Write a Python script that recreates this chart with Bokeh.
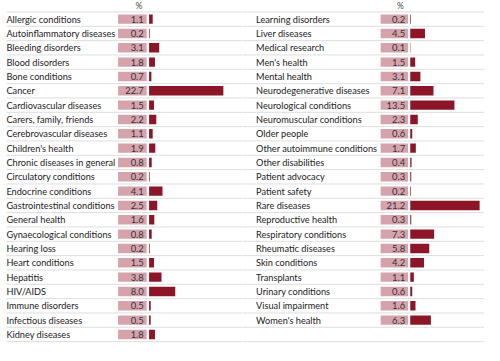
from bokeh.plotting import figure
from bokeh.layouts import row
from bokeh.models import Range1d, ColumnDataSource
from bokeh.core.properties import value
from bokeh.embed import file_html
from bokeh.resources import INLINE

left_labels = ["Allergic conditions", "Autoinflammatory diseases", "Bleeding disorders",
               "Blood disorders", "Bone conditions", "Cancer", "Cardiovascular diseases",
               "Carers, family, friends", "Cerebrovascular diseases", "Children's health",
               "Chronic diseases in general", "Circulatory conditions", "Endocrine conditions",
               "Gastrointestinal conditions", "General health", "Gynaecological conditions",
               "Hearing loss", "Heart conditions", "Hepatitis", "HIV/AIDS", "Immune disorders",
               "Infectious diseases", "Kidney diseases"]
left_values = [1.1, 0.2, 3.1, 1.8, 0.7, 22.7, 1.5, 2.2, 1.1, 1.9, 0.8, 0.2, 4.1, 2.5, 1.6,
               0.8, 0.2, 1.5, 3.8, 8.0, 0.5, 0.5, 1.8]

right_labels = ["Learning disorders", "Liver diseases", "Medical research", "Men's health",
                "Mental health", "Neurodegenerative diseases", "Neurological conditions",
                "Neuromuscular conditions", "Older people", "Other autoimmune conditions",
                "Other disabilities", "Patient advocacy", "Patient safety", "Rare diseases",
                "Reproductive health", "Respiratory conditions", "Rheumatic diseases",
                "Skin conditions", "Transplants", "Urinary conditions", "Visual impairment",
                "Women's health"]
right_values = [0.2, 4.5, 0.1, 1.5, 3.1, 7.1, 13.5, 2.3, 0.6, 1.7, 0.4, 0.3, 0.2, 21.2,
                0.3, 7.3, 5.8, 4.2, 1.1, 0.6, 1.6, 6.3]

unit_header = "%"
n_rows = 23

FONT = "Lato"
BAR = "#8c1628"
BOX = "#d6a3ad"
LINE = "#dedede"
TXT = "#222222"


def panel(labels, values, x_start, x_end, label_x, box_left, box_right, line_x0):
    p = figure(width=242, height=345, output_backend="svg", toolbar_location=None,
               x_range=Range1d(x_start, x_end), y_range=Range1d(22.77, -1.3),
               min_border=0, min_border_left=0, min_border_right=0,
               min_border_top=0, min_border_bottom=0)
    p.axis.visible = False
    p.grid.visible = False
    p.outline_line_color = None
    p.background_fill_color = "white"
    p.border_fill_color = "white"

    rows = list(range(len(labels)))
    src = ColumnDataSource(dict(
        y=rows, label=labels, val=values,
        txt=[f"{v:.1f}" for v in values],
    ))

    # separator lines
    ys = [i - 0.5 for i in range(n_rows + 1)]
    p.segment(x0=line_x0, x1=x_end, y0=ys, y1=ys, line_color=LINE, line_width=1)

    # value boxes
    p.hbar(y="y", left=box_left, right=box_right, height=0.66, source=src,
           fill_color=BOX, line_color=None)
    # bars
    p.hbar(y="y", left=0, right="val", height=0.66, source=src,
           fill_color=BAR, line_color=None)

    # labels
    p.text(x=label_x, y="y", text="label", source=src, text_font=value(FONT),
           text_font_size="9.2px", text_color=TXT, text_baseline="middle",
           text_align="left")
    # values
    p.text(x=box_right - 0.9, y="y", text="txt", source=src, text_font=value(FONT),
           text_font_size="9.4px", text_color="#333333", text_baseline="middle",
           text_align="right")
    # header
    p.text(x=[box_right - 1.3], y=[-0.9], text=[unit_header], text_font=value(FONT),
           text_font_size="8.5px", text_color="#444444", text_baseline="middle",
           text_align="right")
    return p


pl = panel(left_labels, left_values, -45.41, 28.55, -43.6, -9.47, -0.74, -43.6)
pr = panel(right_labels, right_values, -51.27, 22.69, -47.13, -9.05, -0.68, -51.27)

layout = row(pl, pr, spacing=0)

open("out.html", "w").write(file_html(layout, INLINE))
